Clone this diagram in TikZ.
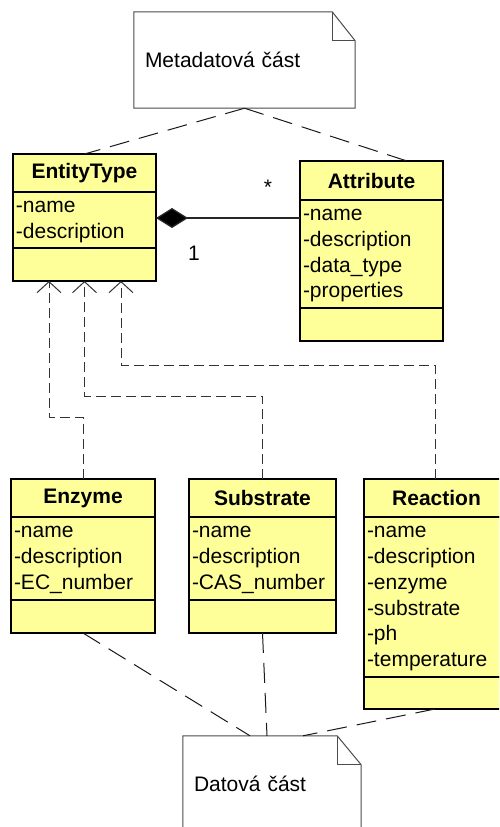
\documentclass[tikz,border=0pt]{standalone}
\usepackage{fontspec}
\setmainfont{Liberation Sans}
\usetikzlibrary{positioning,arrows.meta}

\definecolor{classfill}{HTML}{FFFF99}

\tikzset{
  head/.style={draw, line width=2pt, fill=classfill, outer sep=0pt, inner sep=0pt, minimum height=38pt, font=\fontsize{21}{25.8}\selectfont\bfseries},
  attrs/.style={draw, line width=2pt, fill=classfill, outer sep=0pt, inner xsep=3pt, inner ysep=0pt, align=left,
    execute at begin node=\strut, execute at end node=\strut},
  ops/.style={draw, line width=2pt, fill=classfill, outer sep=0pt, inner sep=0pt, minimum height=33pt},
  note/.style={fill=white, inner xsep=11pt, inner ysep=0pt, minimum height=96pt, align=left},
  notefold/.style={draw=black!70, line width=1pt, line join=miter},
  link/.style={draw=black!90, line width=1pt, dash pattern=on 20pt off 10pt},
  dep/.style={draw=black!80, line width=1pt, dash pattern=on 10pt off 5pt, -{Straight Barb[length=11pt,width=24pt,line width=1pt]}},
  comp/.style={draw=black!85, line width=1.3pt, {Diamond[length=32pt,width=20pt,fill=black]}-}
}

\begin{document}
\begin{tikzpicture}[x=1pt, y=-1pt, font=\fontsize{21}{25.8}\selectfont]
  \useasboundingbox (0,0) rectangle (499,827);
  \clip (0,0) rectangle (499,827);

  % notes
  \node[note, text width=199pt] (meta) at (244.5,60) {Metadatová část};
  \draw[notefold] (meta.south west) -- (meta.north west) -- ([xshift=-23pt]meta.north east)
    -- ([yshift=-29pt]meta.north east) -- (meta.south east) -- cycle;
  \draw[notefold] ([xshift=-23pt]meta.north east) |- ([yshift=-29pt]meta.north east);

  \node[note, text width=156pt] (data) at (272,784) {Datová část};
  \draw[notefold] (data.south west) -- (data.north west) -- ([xshift=-24pt]data.north east)
    -- ([yshift=-29pt]data.north east) -- (data.south east) -- cycle;
  \draw[notefold] ([xshift=-24pt]data.north east) |- ([yshift=-29pt]data.north east);

  % metadata classes
  \node[head, minimum width=143pt, anchor=north west] (et) at (13,154) {EntityType};
  \node[attrs, text width=137pt, minimum height=56pt, below=0pt of et] (eta) {-name\\-description};
  \node[ops, minimum width=143pt, below=0pt of eta] (eto) {};

  \node[head, minimum width=143pt, minimum height=39pt, anchor=north west] (attr) at (300,161) {Attribute};
  \node[attrs, text width=137pt, minimum height=108pt, below=0pt of attr] (attra) {-name\\-description\\-data\_type\\-properties};
  \node[ops, minimum width=143pt, below=0pt of attra] (attro) {};

  % data classes
  \node[head, minimum width=144pt, anchor=north west] (en) at (11,479) {Enzyme};
  \node[attrs, text width=138pt, minimum height=83pt, below=0pt of en] (ena) {-name\\-description\\-EC\_number};
  \node[ops, minimum width=144pt, below=0pt of ena] (eno) {};

  \node[head, minimum width=147pt, anchor=north west] (sb) at (189,479) {Substrate};
  \node[attrs, text width=141pt, minimum height=83pt, below=0pt of sb] (sba) {-name\\-description\\-CAS\_number};
  \node[ops, minimum width=147pt, below=0pt of sba] (sbo) {};

  \node[head, minimum width=150pt, anchor=north west] (re) at (364,479) {Reaction\hspace*{5pt}};
  \node[attrs, text width=144pt, minimum height=160pt, below=0pt of re] (rea) {-name\\-description\\-enzyme\\-substrate\\-ph\\-temperature};
  \node[ops, minimum width=150pt, minimum height=32pt, below=0pt of rea] (reo) {};

  % composition
  \draw[comp] ([yshift=2pt]eta.east) -- ([yshift=2pt]eta.east -| attra.west);
  \node (mstar) at (268,187) {*};
  \node (mone) at (194,253) {1};

  % note links
  \draw[link] (meta.south) -- (et.north);
  \draw[link] (meta.south) -- ([xshift=35.5pt]attr.north);
  \draw[link] (eno.south) -- ([xshift=-22pt]data.north);
  \draw[link] (sbo.south) -- ([xshift=-5pt]data.north);
  \draw[link] ([xshift=-4pt]reo.south) -- ([xshift=31pt]data.north);

  % dependencies
  \draw[dep] (en.north) -- ++(0,-62) -| ([xshift=-35.5pt]eto.south);
  \draw[dep] (sb.north) -- ++(0,-83) -| (eto.south);
  \draw[dep] ([xshift=-4pt]re.north) -- ++(0,-114) -| ([xshift=36.5pt]eto.south);
\end{tikzpicture}
\end{document}
